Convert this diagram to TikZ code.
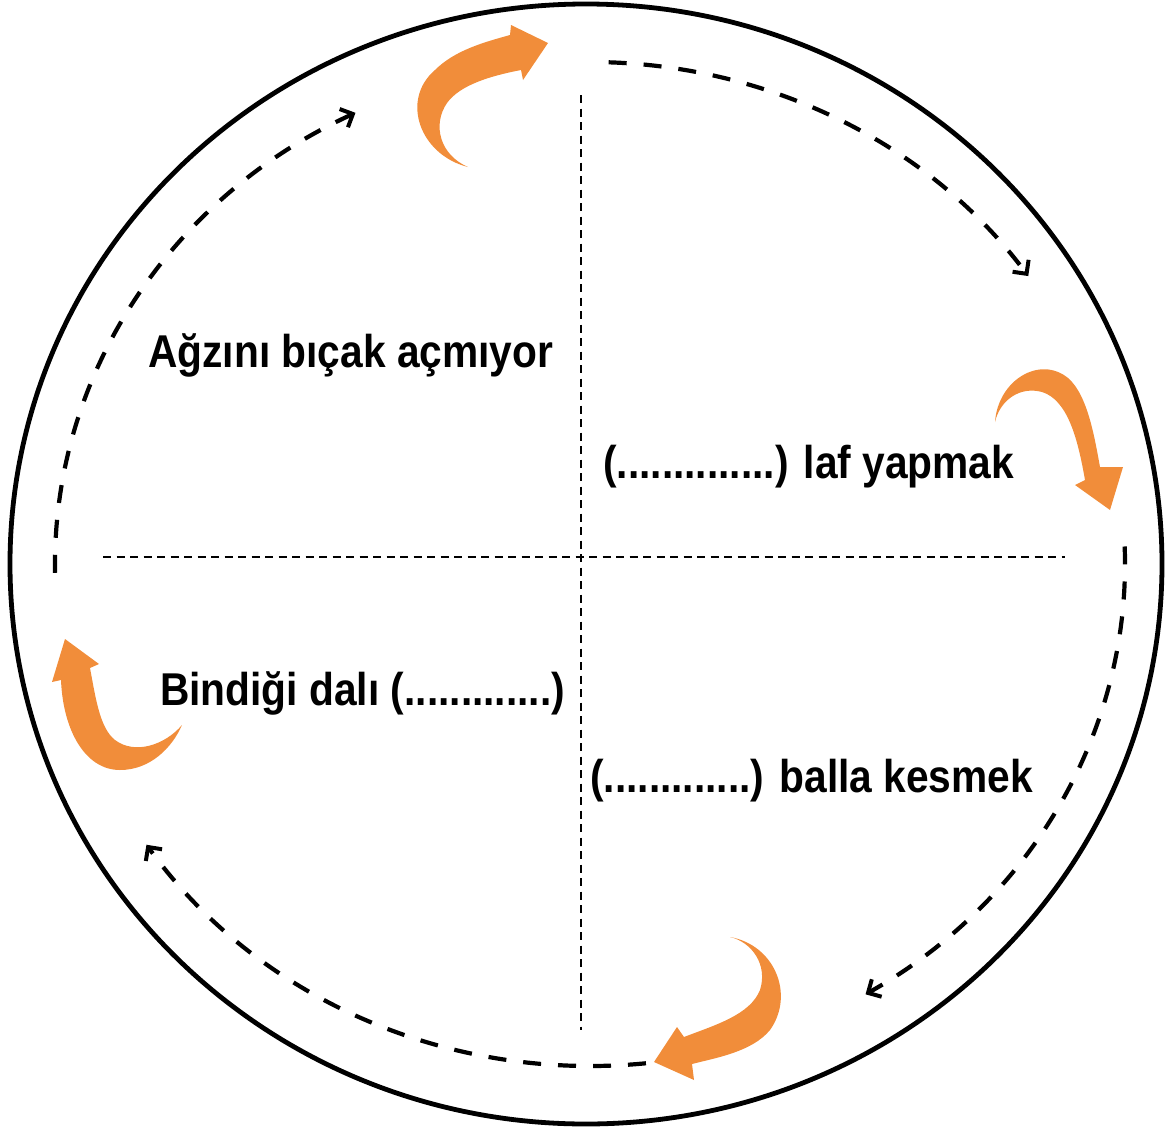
\documentclass[tikz,border=0pt]{standalone}
\usepackage{fontspec}
\setmainfont{Liberation Sans}[FakeStretch=0.885]
\usetikzlibrary{arrows.meta,calc}
\definecolor{org}{RGB}{241,141,58}
\begin{document}
\begin{tikzpicture}[x=1pt,y=-1pt,
  lbl/.style={inner sep=0pt, anchor=base west, font=\fontsize{46}{50}\selectfont\bfseries},
  divider/.style={line width=1.8pt, dash pattern=on 8pt off 5.5pt},
  dasharc/.style={line width=4.2pt, dash pattern=on 18pt off 17pt,
     -{Straight Barb[length=10pt,width=20pt,line width=4pt]}},
  orangearrow/.style={fill=org, draw=none}]
\useasboundingbox (0,0) rectangle (1168,1130);
\coordinate (C) at (586,564);
\coordinate (D) at (590,564);
% outer circle
\draw[line width=4.8pt] (C) ellipse [x radius=576, y radius=560];
% dividers
\coordinate (vtop) at (581,95);
\coordinate (vbot) at (581,1030);
\coordinate (hl) at (103,557);
\coordinate (hr) at (1065,557);
\draw[divider] (vtop) -- (vbot);
\draw[divider] (hl) -- (hr);
% dashed arcs
\coordinate (a1) at ([shift={(179:535 and 502)}]D);
\coordinate (a2) at ([shift={(272:535 and 502)}]D);
\coordinate (a3) at ([shift={(358:535 and 502)}]D);
\coordinate (a4) at ([shift={(84:535 and 502)}]D);
\draw[dasharc] (a1) arc[start angle=179, end angle=244, x radius=535, y radius=502];
\draw[dasharc] (a2) arc[start angle=272, end angle=325, x radius=535, y radius=502];
\draw[dasharc] (a3) arc[start angle=358, end angle=419, x radius=535, y radius=502];
\draw[dasharc] (a4) arc[start angle=84, end angle=146, x radius=535, y radius=502];
% orange curved arrows
% top
\fill[orangearrow] (468,167) .. controls (420,155) and (400,100) .. (435,70)
  .. controls (455,50) and (485,42) .. (510,35)
  -- (511,25) -- (548,43) -- (523,80) -- (521,70)
  .. controls (490,76) and (460,85) .. (447,103)
  .. controls (432,125) and (440,155) .. (468,167) -- cycle;
% right
\fill[orangearrow] (995,422) .. controls (998,380) and (1040,355) .. (1068,378)
  .. controls (1088,395) and (1095,440) .. (1100,467)
  -- (1123,467) -- (1110,510) -- (1075,485) -- (1085,480)
  .. controls (1078,440) and (1068,400) .. (1042,392)
  .. controls (1020,386) and (1000,400) .. (995,422) -- cycle;
% bottom
\fill[orangearrow] (730,937) .. controls (775,945) and (795,995) .. (770,1030)
  .. controls (752,1052) and (715,1058) .. (692,1064)
  -- (694,1080) -- (654,1062) -- (677,1027) -- (684,1037)
  .. controls (715,1025) and (750,1015) .. (760,990)
  .. controls (768,965) and (752,942) .. (730,937) -- cycle;
% left
\fill[orangearrow] (65,639) -- (52,682) -- (61,680)
  .. controls (63,730) and (85,770) .. (120,770)
  .. controls (150,770) and (172,748) .. (182,725)
  .. controls (165,745) and (135,755) .. (115,740)
  .. controls (100,728) and (96,700) .. (90,668)
  -- (99,664) -- cycle;
% texts
\node[lbl] (t1) at (148,367) {Ağzını bıçak açmıyor};
\node[lbl] (t2) at (603,478) {(..............) laf yapmak};
\node[lbl] (t3) at (160,705) {Bindiği dalı (.............)};
\node[lbl] (t4) at (590,792) {(.............) balla kesmek};
\end{tikzpicture}
\end{document}
